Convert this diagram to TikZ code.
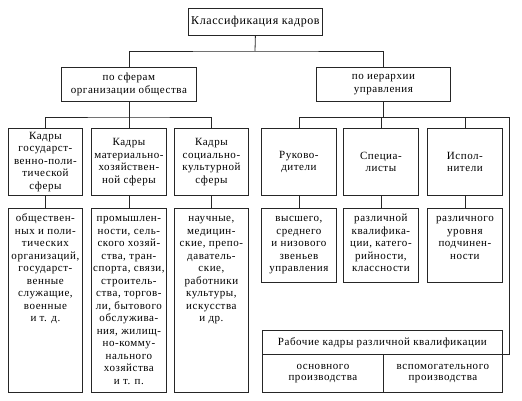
\documentclass[tikz,border=0pt]{standalone}
\usepackage{fontspec}
\setmainfont{Liberation Serif}[LetterSpace=5]
\begin{document}
\begin{tikzpicture}[x=1pt,y=-1pt,
  ln/.style={line width=0.8pt, draw=black!85},
  hbox/.style={ln, draw, rectangle, inner sep=0pt, align=center, font=\fontsize{11}{12.6}\selectfont, anchor=north west},
  cbox/.style={ln, draw, rectangle, inner sep=0pt, anchor=north west, font=\fontsize{11}{12.5}\selectfont}]
\newcommand{\cellcol}[3]{\parbox[t][#2][t]{#1}{\centering\vspace*{4.5pt}\strut#3\par}}
\useasboundingbox (0,0) rectangle (522,401);
% top
\node[hbox, minimum width=134pt, minimum height=27pt, font=\fontsize{12}{13}\selectfont] (top) at (188,8) {Классификация кадров};
\node[hbox, minimum width=135pt, minimum height=34pt, font=\fontsize{11}{13}\selectfont] (sa) at (61,67) {по сферам\\организации общества};
\node[hbox, minimum width=134pt, minimum height=34pt, font=\fontsize{11}{13}\selectfont] (sb) at (316,67) {по иерархии\\управления};
% row 3
\node[hbox, minimum width=74pt, minimum height=67pt] (a3) at (8,128) {Кадры\\государст-\\венно-поли-\\тической\\сферы};
\node[hbox, minimum width=75pt, minimum height=67pt] (b3) at (91,128) {Кадры\\материально-\\хозяйствен-\\ной сферы};
\node[hbox, minimum width=74pt, minimum height=67pt] (c3) at (174,128) {Кадры\\социально-\\культурной\\сферы};
\node[hbox, minimum width=75pt, minimum height=67pt] (d3) at (261,128) {Руково-\\дители};
\node[hbox, minimum width=75pt, minimum height=67pt] (e3) at (343,128) {Специа-\\листы};
\node[hbox, minimum width=75pt, minimum height=67pt] (f3) at (427,128) {Испол-\\нители};
% row 4
\node[cbox] (a4) at (8,208) {\cellcol{74pt}{184pt}{обществен-\\ных и поли-\\тических\\организаций,\\государст-\\венные\\служащие,\\военные\\и т. д.}};
\node[cbox] (b4) at (91,208) {\cellcol{75pt}{184pt}{промышлен-\\ности, сель-\\ского хозяй-\\ства, тран-\\спорта, связи,\\строитель-\\ства, торгов-\\ли, бытового\\обслужива-\\ния, жилищ-\\но-комму-\\нального\\хозяйства\\и т. п.}};
\node[cbox] (c4) at (174,208) {\cellcol{74pt}{184pt}{научные,\\медицин-\\ские, препо-\\даватель-\\ские,\\работники\\культуры,\\искусства\\и др.}};
\node[cbox] (d4) at (261,208) {\cellcol{75pt}{74pt}{высшего,\\среднего\\и низового\\звеньев\\управления}};
\node[cbox] (e4) at (343,208) {\cellcol{75pt}{74pt}{различной\\квалифика-\\ции, катего-\\рийности,\\классности}};
\node[cbox] (f4) at (427,208) {\cellcol{75pt}{74pt}{различного\\уровня\\подчинен-\\ности}};
% workers
\node[hbox, minimum width=240pt, minimum height=24pt, font=\fontsize{11}{13}\selectfont] (wt) at (262,330) {Рабочие кадры различной квалификации};
\node[hbox, minimum width=121pt, minimum height=38pt, font=\fontsize{11}{11.5}\selectfont] (wa) at (262,354) {основного\\производства};
\node[hbox, minimum width=119pt, minimum height=38pt, font=\fontsize{11}{11.5}\selectfont] (wb) at (383,354) {вспомогательного\\производства};
% connectors
\coordinate (tb) at (255,51);
\draw[ln] (top.south) -- (tb);
\draw[ln] (sa.north) |- (tb) -| (sb.north);
\coordinate (lb) at (sa.south |- 0,117);
\draw[ln] (sa.south) -- (lb);
\draw[ln] (a3.north) |- (lb) -| (c3.north);
\draw[ln] (b3.north) -- (b3.north |- lb);
\coordinate (rb) at (sb.south |- 0,117);
\coordinate (rc) at (509,117);
\draw[ln] (sb.south) -- (rb);
\draw[ln] (d3.north) |- (rc) |- (wt.south east);
\draw[ln] (e3.north) -- (e3.north |- rb);
\draw[ln] (f3.north) -- (f3.north |- rb);
\draw[ln] (a3) -- (a4);
\draw[ln] (b3) -- (b4);
\draw[ln] (c3) -- (c4);
\draw[ln] (d3) -- (d4);
\draw[ln] (e3) -- (e4);
\draw[ln] (f3) -- (f4);
\end{tikzpicture}
\end{document}
